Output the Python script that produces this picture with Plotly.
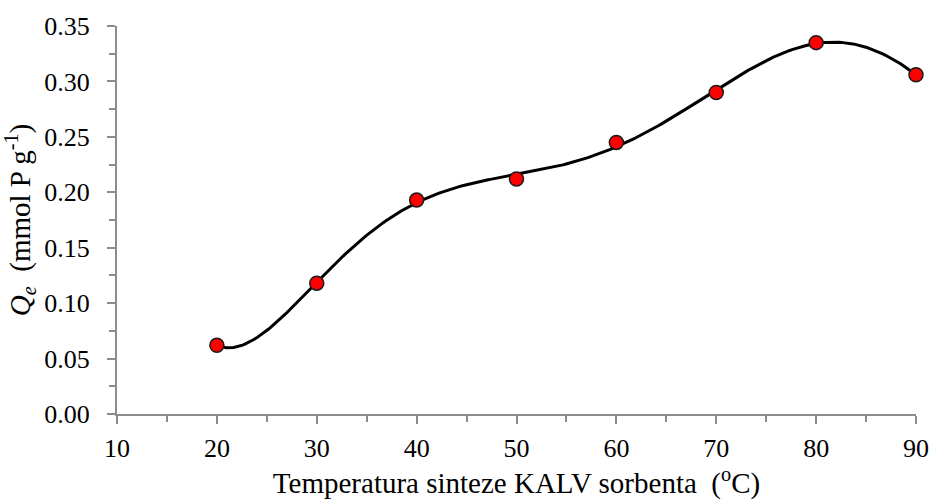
import numpy as np
import plotly.graph_objects as go

temperature = [20, 30, 40, 50, 60, 70, 80, 90]
qe = [0.062, 0.118, 0.193, 0.212, 0.245, 0.290, 0.335, 0.306]

# Polynomial trendline (as in the original spreadsheet chart), fitted to the data
coef = np.polyfit(temperature, qe, 6)
x_fit = np.linspace(min(temperature), max(temperature), 300)
y_fit = np.polyval(coef, x_fit)

FONT = "Liberation Serif, Times New Roman, serif"
AX = "#8c8c8c"
TICK_SIZE = 26
TITLE_SIZE = 29

fig = go.Figure()
fig.add_trace(go.Scatter(x=x_fit, y=y_fit, mode="lines",
                         line=dict(color="black", width=3), hoverinfo="skip",
                         showlegend=False))
fig.add_trace(go.Scatter(x=temperature, y=qe, mode="markers",
                         marker=dict(color="#ff0000", size=14,
                                     line=dict(color="#1a1a1a", width=1.5)),
                         showlegend=False, cliponaxis=False))

fig.update_layout(
    template="none",
    width=932, height=502,
    margin=dict(l=117, r=16, t=26, b=88),
    paper_bgcolor="white", plot_bgcolor="white",
    font=dict(family=FONT, size=TICK_SIZE, color="black"),
    xaxis=dict(range=[10, 90], dtick=10, tick0=10, showgrid=False, zeroline=False,
               automargin=False,
               showline=True, linecolor=AX, linewidth=2,
               ticks="outside", ticklen=8, tickwidth=2, tickcolor=AX,
               minor=dict(dtick=5, ticks="outside", ticklen=6, tickwidth=2, tickcolor=AX),
               tickfont=dict(family=FONT, size=TICK_SIZE), ticklabelstandoff=2,
               title=dict(text="Temperatura sinteze KALV sorbenta  (<sup>o</sup>C)",
                          font=dict(family=FONT, size=TITLE_SIZE), standoff=8)),
    yaxis=dict(range=[0, 0.35], dtick=0.05, tick0=0, tickformat=".2f",
               showgrid=False, zeroline=False, automargin=False,
               showline=True, linecolor=AX, linewidth=2,
               ticks="outside", ticklen=8, tickwidth=2, tickcolor=AX,
               minor=dict(dtick=0.025, ticks="outside", ticklen=6, tickwidth=2, tickcolor=AX),
               tickfont=dict(family=FONT, size=TICK_SIZE), ticklabelstandoff=12,
               title=dict(text="<i>Q</i><sub><i>e</i></sub>  (mmol P g<sup>-1</sup>)",
                          font=dict(family=FONT, size=TITLE_SIZE), standoff=6)),
)

fig.write_html("out.html")
